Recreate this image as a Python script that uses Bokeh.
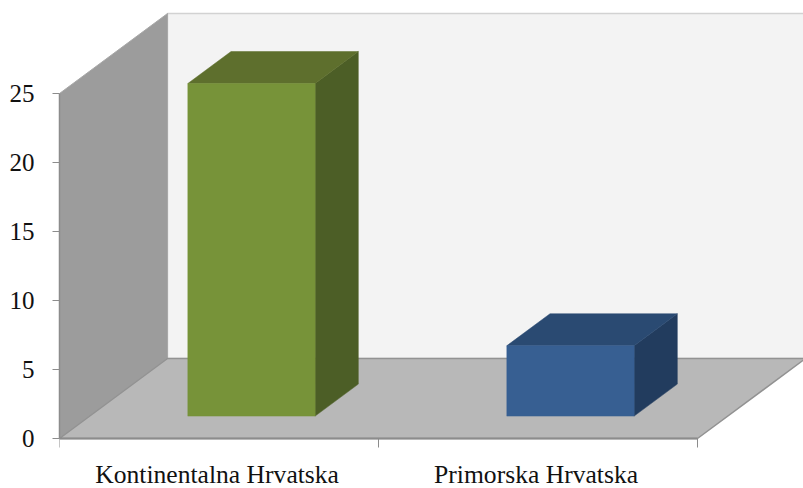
from bokeh.embed import file_html
from bokeh.resources import INLINE
from bokeh.plotting import figure
from bokeh.models import FixedTicker, Range1d

categories = ["Kontinentalna Hrvatska", "Primorska Hrvatska"]
values = [24.1, 5.1]
front_colors = ["#779339", "#375f92"]
top_colors = ["#5e6f2d", "#2a4a72"]
side_colors = ["#4c5e26", "#223c5e"]
y_ticks = [0, 5, 10, 15, 20, 25]
y_max = 25

PX_X = 319.0
PX_Y = 13.8
W, H = 803, 488
X0, Y0 = 59, 438
# oblique projection of the chart's depth axis, in data units
DEPTH_X = 108 / PX_X
DEPTH_Y = 80 / PX_Y
BAR_W = 0.399
BAR_SHIFT = 0.007
LABEL_SHIFT = -0.006
D_FRONT = 0.28
D_BACK = 0.68


def pr(x, y, d):
    return x + DEPTH_X * d, y + DEPTH_Y * d


def poly(*pts):
    xs, ys = zip(*[pr(*q) for q in pts])
    return list(xs), list(ys)


p = figure(width=W, height=H, output_backend="svg", toolbar_location=None,
           x_range=Range1d(0, (W - X0) / PX_X),
           y_range=Range1d(-(H - Y0) / PX_Y, Y0 / PX_Y),
           min_border_left=X0, min_border_right=0, min_border_top=0,
           min_border_bottom=0, outline_line_color=None,
           background_fill_color="white", border_fill_color="white",
           styles={"position": "absolute", "left": "0px", "top": "0px"})
p.grid.visible = False

n = len(categories)
# back wall
bx, by = poly((0, 0, 1), (n + 1, 0, 1), (n + 1, y_max, 1), (0, y_max, 1))
p.patch(bx, by, fill_color="#f3f3f3", line_color="#d2d2d2", line_width=1.5)
# left wall
lx, ly = poly((0, 0, 0), (0, 0, 1), (0, y_max, 1), (0, y_max, 0))
p.patch(lx, ly, fill_color="#9c9c9c", line_color="#a8a8a8", line_width=1)
# floor
fx, fy = poly((0, 0, 0), (n, 0, 0), (n, 0, 1), (0, 0, 1))
p.patch(fx, fy, fill_color="#b8b8b8", line_color="#929292", line_width=1.5)

for i, v in enumerate(values):
    c = i + 0.5 + BAR_SHIFT
    a, b = c - BAR_W / 2, c + BAR_W / 2
    sx, sy = poly((b, 0, D_FRONT), (b, 0, D_BACK), (b, v, D_BACK), (b, v, D_FRONT))
    p.patch(sx, sy, fill_color=side_colors[i], line_color=side_colors[i], line_width=0.5)
    tx, ty = poly((a, v, D_FRONT), (b, v, D_FRONT), (b, v, D_BACK), (a, v, D_BACK))
    p.patch(tx, ty, fill_color=top_colors[i], line_color=top_colors[i], line_width=0.5)
    ax, ay = poly((a, 0, D_FRONT), (b, 0, D_FRONT), (b, v, D_FRONT), (a, v, D_FRONT))
    p.patch(ax, ay, fill_color=front_colors[i], line_color=front_colors[i], line_width=0.5)

ya = p.yaxis[0]
ya.ticker = FixedTicker(ticks=y_ticks)
ya.bounds = (0, y_max)
ya.axis_line_color = "#8c8c8c"
ya.axis_line_width = 1.5
ya.major_tick_line_color = "#8c8c8c"
ya.major_tick_out = 7
ya.major_tick_in = 0
ya.minor_tick_line_color = None
ya.major_label_text_font = "Liberation Serif"
ya.major_label_text_font_size = "25px"
ya.major_label_text_color = "#111111"
ya.major_label_standoff = 18

xa = p.xaxis[0]
xa.fixed_location = 0
label_ticks = [i + 0.5 + LABEL_SHIFT for i in range(n)]
xa.ticker = FixedTicker(ticks=label_ticks, minor_ticks=list(range(n + 1)))
xa.major_label_overrides = {t: c for t, c in zip(label_ticks, categories)}
xa.bounds = (0, n)
xa.axis_line_color = "#8c8c8c"
xa.axis_line_width = 2
xa.major_tick_line_color = None
xa.major_tick_out = 0
xa.major_tick_in = 0
xa.minor_tick_line_color = "#8c8c8c"
xa.minor_tick_out = 9
xa.minor_tick_in = 0
xa.major_label_text_font = "Liberation Serif"
xa.major_label_text_font_size = "25.6px"
xa.major_label_text_color = "#111111"
xa.major_label_standoff = 12

open("out.html", "w").write(file_html(p, INLINE))
